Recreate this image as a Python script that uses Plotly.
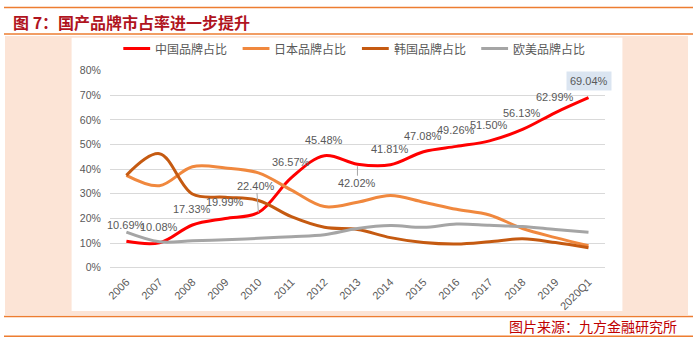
import plotly.graph_objects as go

# ---- data -------------------------------------------------------------
years = ["2006", "2007", "2008", "2009", "2010", "2011", "2012", "2013",
         "2014", "2015", "2016", "2017", "2018", "2019", "2020Q1"]

china = [10.69, 10.08, 17.33, 19.99, 22.40, 36.57, 45.48, 42.02,
         41.81, 47.08, 49.26, 51.50, 56.13, 62.99, 69.04]
japan = [37.5, 33.3, 41.0, 40.5, 38.5, 31.5, 24.8, 26.6,
         29.3, 26.6, 23.7, 21.4, 15.9, 12.2, 8.9]
korea = [37.5, 46.3, 29.9, 28.6, 27.3, 20.7, 16.4, 15.5,
         12.2, 10.2, 9.6, 10.5, 11.7, 10.2, 8.1]
europe = [14.4, 10.5, 10.9, 11.3, 11.9, 12.6, 13.4, 15.9,
          17.1, 16.4, 17.7, 17.2, 16.7, 15.5, 14.4]

series_names = ["中国品牌占比", "日本品牌占比", "韩国品牌占比", "欧美品牌占比"]
series_values = [china, japan, korea, europe]
series_colors = ["#ff0000", "#f0883e", "#c55a11", "#a5a5a5"]

y_ticks = [0, 10, 20, 30, 40, 50, 60, 70, 80]
y_tick_text = [f"{v}%" for v in y_ticks]

title_text = "图 7：国产品牌市占率进一步提升"
source_text = "图片来源：九方金融研究所"

# ---- page geometry helpers (pixel -> paper) ---------------------------
W, H = 693, 348


def px(x):
    return x / W


def py(y):
    return 1 - y / H


def paper_line(x0, x1, y, color, width):
    return dict(type="line", xref="paper", yref="paper",
                x0=px(x0), x1=px(x1), y0=py(y), y1=py(y),
                line=dict(color=color, width=width))


def paper_rect(x0, x1, y0, y1, fill):
    return dict(type="rect", xref="paper", yref="paper",
                x0=px(x0), x1=px(x1), y0=py(y1), y1=py(y0),
                fillcolor=fill, line=dict(width=0), layer="below")


fig = go.Figure()

for name, vals, col in zip(series_names, series_values, series_colors):
    fig.add_trace(go.Scatter(
        x=years, y=[v / 100 for v in vals], name=name, mode="lines",
        line=dict(color=col, width=3, shape="spline", smoothing=1.0),
        showlegend=False, hoverinfo="skip",
    ))

# ---- frame: rules, peach panel, white chart area ---------------------
shapes = [
    paper_line(0, W, 1.5, "#ed7d31", 1.5),
    paper_line(0, W, 29, "#ed7d31", 1.5),
    paper_rect(1, 688, 31, 320, "#fce4d6"),
    paper_rect(68, 622, 33, 316, "#ffffff"),
    paper_line(0, W, 321.5, "#ed7d31", 1.5),
    paper_line(0, W, 342, "#ed7d31", 1.5),
]

annotations = [
    dict(text=f"<b>{title_text}</b>", x=px(7), y=py(17), xref="paper", yref="paper",
         xanchor="left", yanchor="middle", showarrow=False,
         font=dict(family="Noto Sans CJK SC", size=16, color="#b0141e")),
    dict(text=source_text, x=px(679), y=py(331.5), xref="paper", yref="paper",
         xanchor="right", yanchor="middle", showarrow=False,
         font=dict(family="Noto Sans CJK SC", size=14, color="#c00000")),
]

# ---- legend drawn as short rules + labels -----------------------------
for i, (name, col) in enumerate(zip(series_names, series_colors)):
    x0 = 120 + 120 * i
    shapes.append(paper_line(x0, x0 + 27, 44, col, 3))
    annotations.append(dict(text=name, x=px(x0 + 30), y=py(44), xref="paper", yref="paper",
                            xanchor="left", yanchor="middle", showarrow=False,
                            font=dict(family="Noto Sans CJK SC", size=12, color="#595959")))

# ---- value labels on the domestic-brand series ------------------------
# category positions are addressed by index so year strings are not read as numbers
label_font = dict(family="Liberation Sans, Arial", size=11, color="#595959")
for idx, (yr, v) in enumerate(zip(years, china)):
    txt = f"{v:.2f}%"
    base = dict(x=idx, y=v / 100, xref="x", yref="y", text=txt, font=label_font)
    if yr == "2010":
        base.update(showarrow=True, arrowhead=0, arrowwidth=1, arrowcolor="#a6a6a6",
                    ax=-2, ay=-27)
    elif yr == "2013":
        base.update(showarrow=True, arrowhead=0, arrowwidth=1, arrowcolor="#a6a6a6",
                    ax=0, ay=19, standoff=2)
    elif yr == "2020Q1":
        base.update(showarrow=False, yshift=17, bgcolor="#dbe5f1", borderpad=3)
    else:
        base.update(showarrow=False, yshift=16)
    annotations.append(base)

fig.update_layout(
    width=W, height=H,
    margin=dict(l=0, r=0, t=0, b=0),
    paper_bgcolor="#ffffff",
    plot_bgcolor="rgba(0,0,0,0)",
    shapes=shapes,
    annotations=annotations,
    showlegend=False,
    xaxis=dict(
        domain=[px(106.5), px(604.5)],
        type="category", categoryorder="array", categoryarray=years,
        range=[-0.5, len(years) - 0.5],
        showgrid=False, zeroline=False, showline=False,
        ticks="", tickangle=-45, ticklabelstandoff=5,
        tickfont=dict(family="Liberation Sans, Arial", size=11, color="#595959"),
        anchor="y",
    ),
    yaxis=dict(
        domain=[py(271), py(67)],
        range=[0, 0.8], tickvals=[v / 100 for v in y_ticks], ticktext=y_tick_text,
        showgrid=True, gridcolor="#d9d9d9", gridwidth=1,
        zeroline=True, zerolinecolor="#d9d9d9", zerolinewidth=1,
        showline=False, ticks="", ticklabelstandoff=8,
        tickfont=dict(family="Liberation Sans, Arial", size=10.5, color="#595959"),
    ),
)

fig.write_html("out.html")
